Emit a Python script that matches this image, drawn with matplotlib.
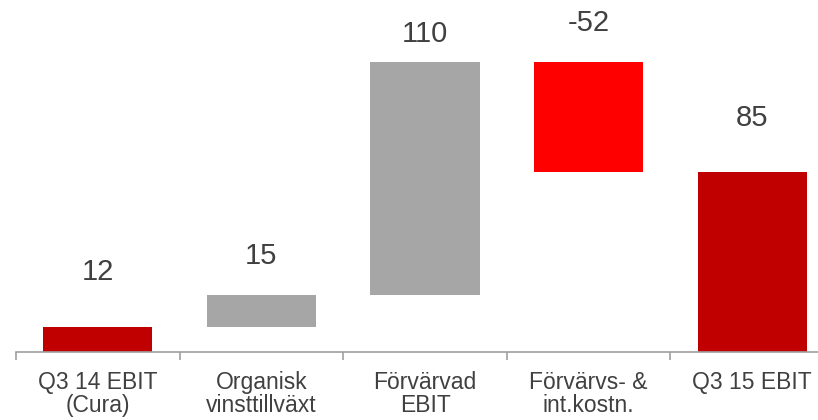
import numpy as np
import matplotlib.pyplot as plt

plt.rcParams['font.family'] = ['Liberation Sans', 'DejaVu Sans']

# data
categories = ['Q3 14 EBIT\n(Cura)', 'Organisk\nvinsttillväxt', 'Förvärvad\nEBIT',
              'Förvärvs- &\nint.kostn.', 'Q3 15 EBIT']
values = [12, 15, 110, -52, 85]
kinds = ['total', 'step', 'step', 'step', 'total']
colors = ['#C00000', '#A6A6A6', '#A6A6A6', '#FF0000', '#C00000']
label_pad = [39, 28, 20, 28, 39]  # points above bar top

# waterfall bottoms / heights
bottoms = []
heights = []
running = 0
for v, k in zip(values, kinds):
    if k == 'total':
        bottoms.append(0)
        heights.append(v)
        running = v
    else:
        if v >= 0:
            bottoms.append(running)
        else:
            bottoms.append(running + v)
        heights.append(abs(v))
        running += v

fig = plt.figure(figsize=(8.18, 4.2), dpi=100)
ax = fig.add_axes([16 / 818, 68 / 420, 818 / 818, 350 / 420])

x = np.arange(len(values))
ax.bar(x, heights, bottom=bottoms, width=0.667, color=colors)

for i, v in enumerate(values):
    top = bottoms[i] + heights[i]
    ax.annotate(str(v), (x[i], top), xytext=(0, label_pad[i]), textcoords='offset points',
                ha='center', va='center', fontsize=21, color='#404040')

ax.set_xlim(-0.5, len(values) - 0.5)
ax.set_ylim(0, 350 / 2.12)

for s in ['top', 'right', 'left']:
    ax.spines[s].set_visible(False)
ax.spines['bottom'].set_color('#A0A0A0')
ax.spines['bottom'].set_linewidth(1.2)
ax.set_yticks([])

ax.set_xticks(np.arange(len(values) + 1) - 0.5)
ax.set_xticklabels([])
ax.tick_params(axis='x', which='major', length=6, width=1.2, color='#A0A0A0')
ax.set_xticks(x, minor=True)
ax.set_xticklabels(categories, minor=True, fontsize=16.5, color='#404040', linespacing=1.0)
ax.tick_params(axis='x', which='minor', length=0, pad=14)

fig.savefig('out.png', dpi=100)
